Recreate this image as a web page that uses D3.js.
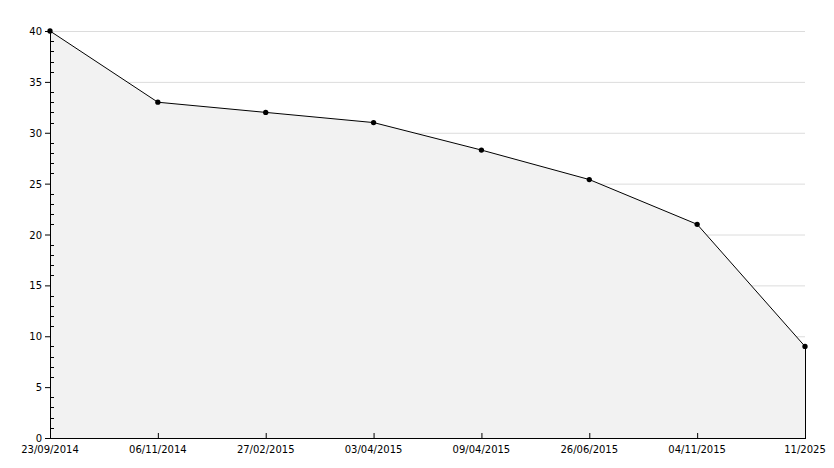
<!DOCTYPE html>
<html>
<head>
<meta charset="utf-8">
<style>
  body { margin: 0; background: white; }
  text { font-family: "DejaVu Sans", sans-serif; font-size: 10px; fill: #000; }
</style>
</head>
<body>
<script src="https://cdnjs.cloudflare.com/ajax/libs/d3/7.8.5/d3.min.js"></script>
<script>
var labels = ["23/09/2014", "06/11/2014", "27/02/2015", "03/04/2015", "09/04/2015", "26/06/2015", "04/11/2015", "11/2025"];
var values = [40, 33, 32, 31, 28.3, 25.4, 21, 9];
var yMajor = [0, 5, 10, 15, 20, 25, 30, 35, 40];

var W = 834, H = 468;
var mLeft = 50, mRight = 805, mTop = 31, mBottom = 438;

var svg = d3.select("body").append("svg").attr("width", W).attr("height", H);

var x = d3.scalePoint().domain(d3.range(labels.length)).range([mLeft, mRight]);
var y = d3.scaleLinear().domain([0, 40]).range([mBottom, mTop]);

// gridlines
svg.selectAll("line.grid").data(yMajor.slice(1)).enter().append("line")
    .attr("x1", mLeft).attr("x2", mRight)
    .attr("y1", d => y(d) + 0.5).attr("y2", d => y(d) + 0.5)
    .attr("stroke", "#dcdcdc");

var data = values.map((v, i) => ({i: i, v: v}));

// area
svg.append("path").datum(data)
    .attr("d", d3.area().x(d => x(d.i)).y0(mBottom).y1(d => y(d.v)))
    .attr("fill", "#f2f2f2");

// right edge
svg.append("line")
    .attr("x1", x(labels.length - 1) + 0.5).attr("x2", x(labels.length - 1) + 0.5)
    .attr("y1", y(values[values.length - 1])).attr("y2", mBottom)
    .attr("stroke", "#000");

// line
svg.append("path").datum(data)
    .attr("d", d3.line().x(d => x(d.i)).y(d => y(d.v)))
    .attr("fill", "none").attr("stroke", "#000").attr("stroke-width", 1);

// y axis
svg.append("line").attr("x1", mLeft + 0.5).attr("x2", mLeft + 0.5)
    .attr("y1", mTop).attr("y2", mBottom).attr("stroke", "#000");
svg.selectAll("line.ymaj").data(yMajor).enter().append("line")
    .attr("x1", mLeft - 5).attr("x2", mLeft)
    .attr("y1", d => y(d) + 0.5).attr("y2", d => y(d) + 0.5).attr("stroke", "#000");
svg.selectAll("line.ymin").data(d3.range(0, 41).filter(d => d % 5 != 0)).enter().append("line")
    .attr("x1", mLeft).attr("x2", mLeft + 4)
    .attr("y1", d => Math.round(y(d)) + 0.5).attr("y2", d => Math.round(y(d)) + 0.5).attr("stroke", "#000");
svg.selectAll("text.ylab").data(yMajor).enter().append("text")
    .attr("x", mLeft - 8).attr("y", d => y(d) + 4)
    .attr("text-anchor", "end").text(d => d);

// x axis
svg.append("line").attr("x1", mLeft).attr("x2", mRight + 1)
    .attr("y1", mBottom + 0.5).attr("y2", mBottom + 0.5).attr("stroke", "#000");
svg.selectAll("line.xt").data(labels).enter().append("line")
    .attr("x1", (d, i) => x(i) + 0.5).attr("x2", (d, i) => x(i) + 0.5)
    .attr("y1", mBottom - 5).attr("y2", mBottom).attr("stroke", "#000");
svg.selectAll("text.xlab").data(labels).enter().append("text")
    .attr("x", (d, i) => x(i)).attr("y", mBottom + 15)
    .attr("text-anchor", "middle").text(d => d);

// markers
svg.selectAll("path.mk").data(data).enter().append("path")
    .attr("transform", d => "translate(" + x(d.i) + "," + y(d.v) + ")")
    .attr("d", d3.symbol(d3.symbolCircle, 22)())
    .attr("fill", "#000");
</script>
</body>
</html>
